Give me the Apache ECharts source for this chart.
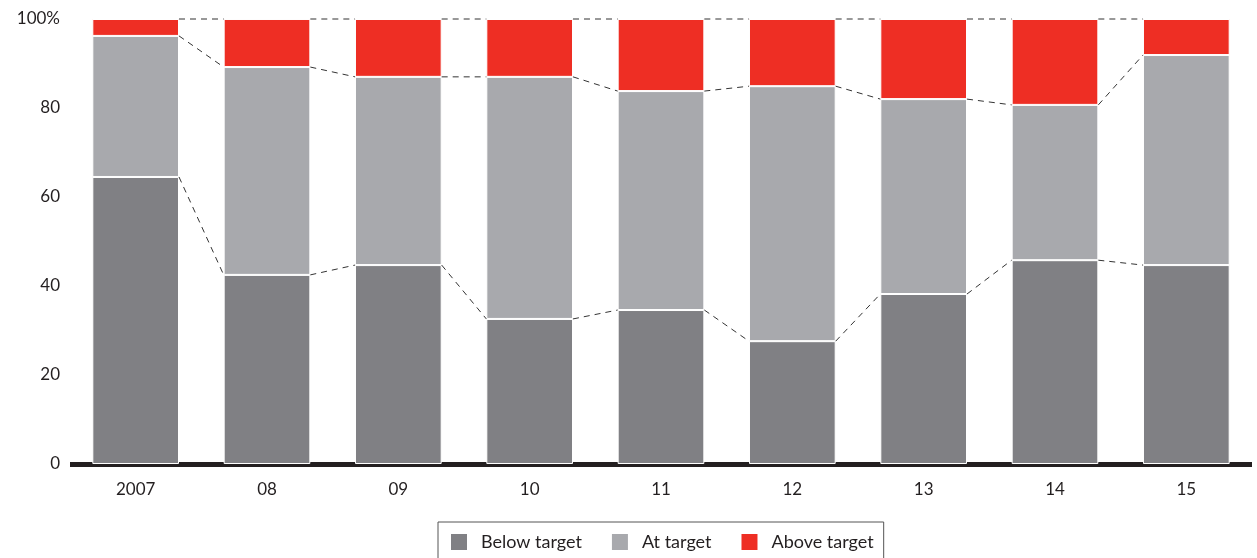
<!DOCTYPE html>
<html>
<head>
<meta charset="utf-8">
<script src="https://cdn.jsdelivr.net/npm/echarts@6/dist/echarts.min.js"></script>
<style>
  html, body { margin: 0; padding: 0; background: #fff; }
  #chart { width: 1257px; height: 558px; }
</style>
</head>
<body>
<div id="chart"></div>
<script>
var years = ['2007', '08', '09', '10', '11', '12', '13', '14', '15']
var below = [64.5, 42.5, 44.7, 32.6, 34.6, 27.6, 38.2, 45.8, 44.7]
var atTarget = [31.7, 46.7, 42.3, 54.4, 49.2, 57.3, 43.8, 34.9, 47.2]
var above = below.map(function (v, i) { return +(100 - v - atTarget[i]).toFixed(1) })

var BAR_RATIO = 0.66
var font = 'Lato, "Noto Sans", sans-serif'

// connector levels: top of below, top of at target, 100
var levels = []
for (var i = 0; i < years.length - 1; i++) {
  levels.push([i, below[i], below[i + 1]])
  levels.push([i, below[i] + atTarget[i], below[i + 1] + atTarget[i + 1]])
  levels.push([i, 100, 100])
}

var chart = echarts.init(document.getElementById('chart'))
chart.setOption({
  animation: false,
  grid: { left: 70, right: 5, top: 19, bottom: 94 },
  legend: {
    left: 438,
    top: 522,
    padding: [10, 10, 14, 11],
    borderColor: '#555',
    borderWidth: 1,
    itemWidth: 18,
    itemHeight: 18,
    itemGap: 28,
    icon: 'rect',
    textStyle: { fontFamily: font, fontSize: 18, color: '#231f20', padding: [0, 0, 0, 8] },
    data: ['Below target', 'At target', 'Above target']
  },
  xAxis: {
    type: 'category',
    data: years,
    axisLine: { lineStyle: { color: '#231f20', width: 5, cap: 'butt' } },
    axisTick: { show: false },
    axisLabel: { fontFamily: font, fontSize: 17, color: '#231f20', margin: 17 }
  },
  yAxis: {
    type: 'value',
    min: 0,
    max: 100,
    interval: 20,
    splitLine: { show: false },
    axisLabel: {
      fontFamily: font, fontSize: 17, color: '#231f20', margin: 10,
      formatter: function (v) { return v === 100 ? '100%' : v }
    }
  },
  series: [
    {
      name: 'Below target', type: 'bar', stack: 'total', barWidth: '66%',
      itemStyle: { color: '#808084', borderColor: '#fff', borderWidth: 1 },
      data: below
    },
    {
      name: 'At target', type: 'bar', stack: 'total',
      itemStyle: { color: '#a8a9ad', borderColor: '#fff', borderWidth: 1 },
      data: atTarget
    },
    {
      name: 'Above target', type: 'bar', stack: 'total',
      itemStyle: { color: '#ee2e24', borderColor: '#fff', borderWidth: 1 },
      data: above
    },
    {
      type: 'custom',
      silent: true,
      z: 5,
      renderItem: function (params, api) {
        var i = api.value(0)
        var p1 = api.coord([i, api.value(1)])
        var p2 = api.coord([i + 1, api.value(2)])
        var half = api.size([1, 0])[0] * BAR_RATIO / 2
        return {
          type: 'line',
          shape: { x1: p1[0] + half, y1: p1[1], x2: p2[0] - half, y2: p2[1] },
          style: { stroke: '#333', lineWidth: 1, lineDash: [6, 5] }
        }
      },
      data: levels
    }
  ]
})
</script>
</body>
</html>
